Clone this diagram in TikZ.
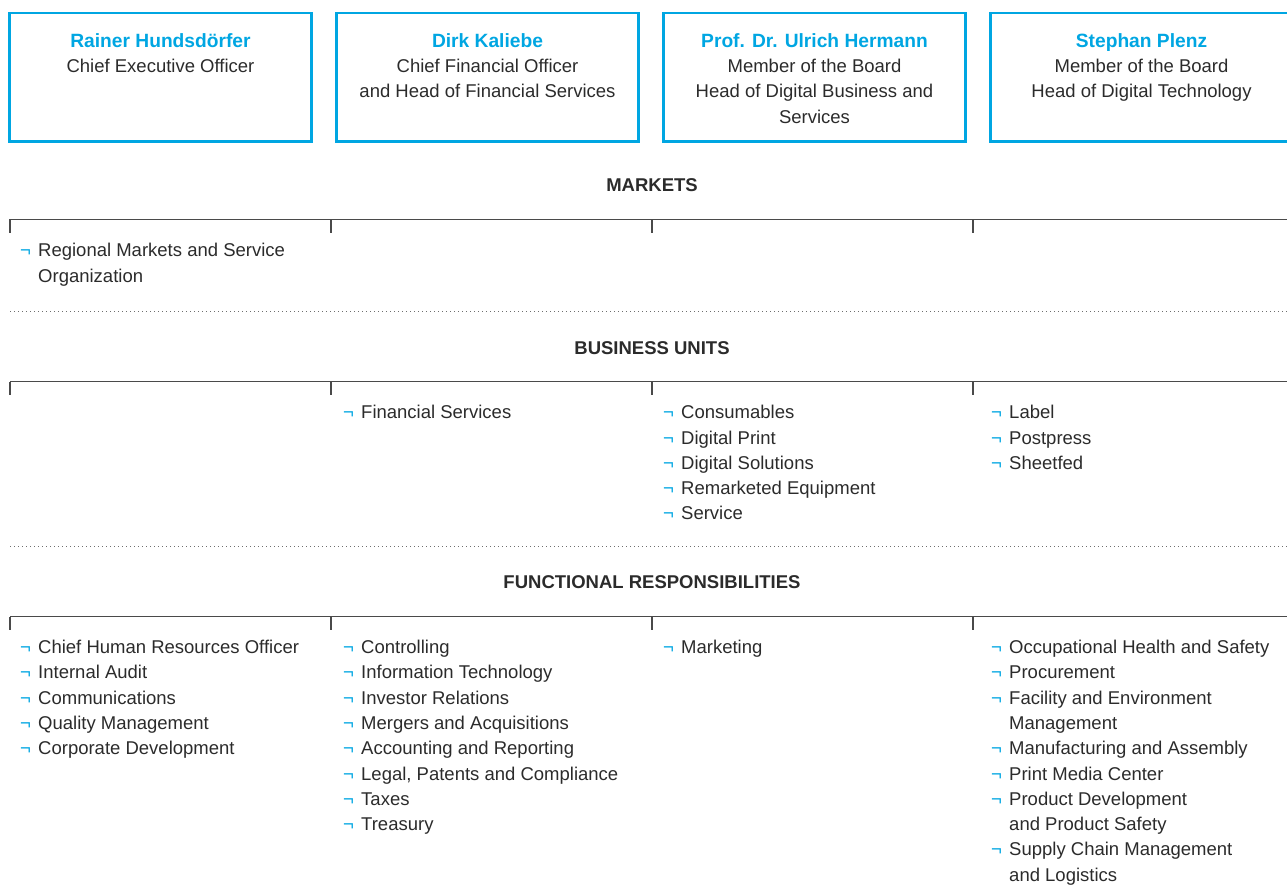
\documentclass[tikz,border=0pt]{standalone}
\usepackage{fontspec}
\setmainfont{Liberation Sans}
\usetikzlibrary{positioning}

\definecolor{hdcyan}{HTML}{00A6E2}
\definecolor{hdtext}{HTML}{2B2B2B}
\definecolor{hdrule}{HTML}{4A4A4A}

% bullet and continuation indent for the lists (the strut fixes the first line height)
\newcommand{\bul}{\strut\makebox[18pt][l]{\textcolor{hdcyan}{¬}}}
\newcommand{\cont}{\hspace*{18pt}}
% board member name
\newcommand{\member}[1]{\strut\textcolor{hdcyan}{\fontsize{19.2}{25.3}\selectfont\bfseries #1}}

\begin{document}
\begin{tikzpicture}[
    x=1pt,
    y=-1pt,
    font=\fontsize{18.5}{25.3}\selectfont,
    text=hdtext,
    board/.style={
        rectangle,
        draw=hdcyan,
        line width=2.8pt,
        minimum width=302pt,
        minimum height=128.5pt,
        inner sep=0pt,
        outer sep=0pt
    },
    % first baseline sits 34pt below the top edge of the box
    boardtext/.style={
        anchor=north,
        align=center,
        inner sep=0pt,
        yshift=-16.29pt
    },
    section/.style={
        anchor=base,
        inner sep=0pt,
        font=\fontsize{18.5}{25.3}\selectfont\bfseries
    },
    % placed at the baseline of the first line
    items/.style={
        anchor=north west,
        align=left,
        inner sep=0pt,
        yshift=17.71pt
    },
    bracket/.style={
        draw=hdrule,
        line width=1.2pt
    },
    sep/.style={
        draw=hdrule!80,
        line width=1pt,
        dash pattern=on 1pt off 3pt
    }
]
    \useasboundingbox (0,0) rectangle (1287,888);

    % Board members
    \node [board] (ceo) at (160.5,77.25) {};
    \node [board, right=25pt of ceo] (cfo) {};
    \node [board, right=25pt of cfo] (cdo) {};
    \node [board, right=25pt of cdo] (cto) {};

    \node [boardtext] (ceo-txt) at (ceo.north) {\member{Rainer Hundsdörfer}\\Chief Executive Officer};
    \node [boardtext] (cfo-txt) at (cfo.north) {\member{Dirk Kaliebe}\\Chief Financial Officer\\and Head of Financial Services};
    \node [boardtext] (cdo-txt) at (cdo.north) {\member{Prof. Dr. Ulrich Hermann}\\Member of the Board\\Head of Digital Business and\\Services};
    \node [boardtext] (cto-txt) at (cto.north) {\member{Stephan Plenz}\\Member of the Board\\Head of Digital Technology};

    % Section headings
    \node [section] (markets) at (652,191.5) {MARKETS};
    \node [section] (units) at (652,354.5) {BUSINESS UNITS};
    \node [section] (functions) at (652,588.5) {FUNCTIONAL RESPONSIBILITIES};

    % Brackets under each heading
    \foreach \y in {219.3,381.7,616.7} {
        \draw [bracket] (0,\y) ++(10,0) -- ++(1290,0);
        \foreach \x in {10,331,652,973}
            \draw [bracket] (\x,\y) -- ++(0,13.4);
    }

    % Dotted separators
    \draw [sep] (10,311.7) -- (1300,311.7);
    \draw [sep] (10,546) -- (1300,546);

    % Markets
    \node [items] (mkt-1) at (20,256.5) {\bul Regional Markets and Service\\\cont Organization};

    % Business units
    \node [items] (bu-2) at (343,418.5) {\bul Financial Services};
    \node [items] (bu-3) at (663,418.5) {\bul Consumables\\\bul Digital Print\\\bul Digital Solutions\\\bul Remarketed Equipment\\\bul Service};
    \node [items] (bu-4) at (991,418.5) {\bul Label\\\bul Postpress\\\bul Sheetfed};

    % Functional responsibilities
    \node [items] (fr-1) at (20,653.3) {\bul Chief Human Resources Officer\\\bul Internal Audit\\\bul Communications\\\bul Quality Management\\\bul Corporate Development};
    \node [items] (fr-2) at (343,653.3) {\bul Controlling\\\bul Information Technology\\\bul Investor Relations\\\bul Mergers and Acquisitions\\\bul Accounting and Reporting\\\bul Legal, Patents and Compliance\\\bul Taxes\\\bul Treasury};
    \node [items] (fr-3) at (663,653.3) {\bul Marketing};
    \node [items] (fr-4) at (991,653.3) {\bul Occupational Health and Safety\\\bul Procurement\\\bul Facility and Environment\\\cont Management\\\bul Manufacturing and Assembly\\\bul Print Media Center\\\bul Product Development\\\cont and Product Safety\\\bul Supply Chain Management\\\cont and Logistics};
\end{tikzpicture}
\end{document}
